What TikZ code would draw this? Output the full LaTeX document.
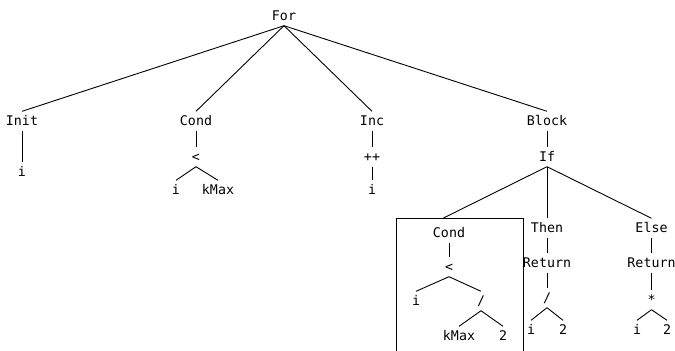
\documentclass[tikz,border=0pt]{standalone}
\usepackage{fontspec}
\setmonofont{DejaVu Sans Mono}
\begin{document}
\begin{tikzpicture}[x=1bp,y=-1bp,
  t/.style={font=\ttfamily\fontsize{13.3bp}{16bp}\selectfont, inner xsep=0pt, inner ysep=3.5bp, text height=10bp, text depth=2bp, anchor=base},
  e/.style={line width=0.9bp},
  frame/.style={draw, line width=0.9bp, inner sep=0pt, anchor=north west, minimum width=127bp, minimum height=150bp}]
\clip (0,0) rectangle (675,350);
% root
\node[t] (for) at (284,20) {For};
% Init
\node[t] (init) at (22,125) {Init};
\node[t] (initi) at (22,176) {i};
% Cond
\node[t] (cond) at (196,125) {Cond};
\node[t] (lt) at (196,161) {<};
\node[t] (condi) at (176,194) {i};
\node[t] (condk) at (218,194) {kMax};
% Inc
\node[t] (inc) at (372,125) {Inc};
\node[t] (pp) at (372,161) {++};
\node[t] (inci) at (372,194) {i};
% Block
\node[t] (block) at (547,125) {Block};
\node[t] (if) at (547,161) {If};
% boxed Cond
\node[frame] (box) at (396,218) {};
\node[t] (bcond) at (449,237) {Cond};
\node[t] (blt) at (449,271) {<};
\node[t] (bi) at (416,305) {i};
\node[t] (bdiv) at (481,305) {/};
\node[t] (bk) at (459,340) {kMax};
\node[t] (b2) at (503,340) {2};
% Then
\node[t] (then) at (547,232) {Then};
\node[t] (tret) at (547,267) {Return};
\node[t] (tdiv) at (547,302) {/};
\node[t] (ti) at (531,334) {i};
\node[t] (t2) at (563,334) {2};
% Else
\node[t] (else) at (651.5,232) {Else};
\node[t] (eret) at (651.5,267) {Return};
\node[t] (emul) at (651.5,304) {*};
\node[t] (ei) at (637,334) {i};
\node[t] (e2) at (667,334) {2};
% edges
\draw[e] (for.south) -- (init.north);
\draw[e] (for.south) -- (cond.north);
\draw[e] (for.south) -- (inc.north);
\draw[e] (for.south) -- (block.north);
\draw[e] (init.south) -- (initi.north);
\draw[e] (cond.south) -- (lt.north);
\draw[e] (lt.south) -- (condi.north);
\draw[e] (lt.south) -- (condk.north);
\draw[e] (inc.south) -- (pp.north);
\draw[e] (pp.south) -- (inci.north);
\draw[e] (block.south) -- (if.north);
\draw[e] (if.south) -- ([xshift=-16.5bp]box.north);
\draw[e] (if.south) -- (then.north);
\draw[e] (if.south) -- (else.north);
\draw[e] (bcond.south) -- (blt.north);
\draw[e] (blt.south) -- (bi.north);
\draw[e] (blt.south) -- (bdiv.north);
\draw[e] (bdiv.south) -- (bk.north);
\draw[e] (bdiv.south) -- (b2.north);
\draw[e] (then.south) -- (tret.north);
\draw[e] (tret.south) -- (tdiv.north);
\draw[e] (tdiv.south) -- (ti.north);
\draw[e] (tdiv.south) -- (t2.north);
\draw[e] (else.south) -- (eret.north);
\draw[e] (eret.south) -- (emul.north);
\draw[e] (emul.south) -- (ei.north);
\draw[e] (emul.south) -- (e2.north);
\end{tikzpicture}
\end{document}
